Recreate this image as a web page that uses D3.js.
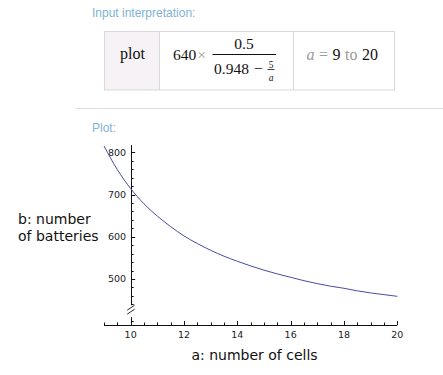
<!DOCTYPE html>
<html>
<head>
<meta charset="utf-8">
<script src="https://cdn.jsdelivr.net/npm/d3@7"></script>
<style>
  html, body { margin: 0; padding: 0; background: #fff; }
  svg { display: block; }
</style>
</head>
<body>
<svg id="chart" width="443" height="375"></svg>
<script>
// ---- data ----
const aValues = [9, 9.5, 10, 10.5, 11, 11.5, 12, 12.5, 13, 13.5, 14, 14.5, 15, 15.5, 16, 16.5, 17, 17.5, 18, 18.5, 19, 19.5, 20];
const bValues = [815, 759, 714, 678, 649, 624, 602, 584, 568, 554, 542, 531, 521, 512, 504, 496, 489, 483, 478, 472, 467, 463, 459];
const xTickLabels = [10, 12, 14, 16, 18, 20];
const yTickLabels = [500, 600, 700, 800];
const xLabel = "a: number of cells";
const yLabelLines = ["b: number", "of batteries"];

const svg = d3.select("#chart");

// ---- header: input interpretation ----
const blue = "#80b3d6";
svg.append("text").attr("x", 92).attr("y", 17)
  .attr("font-family", "Liberation Sans, Arial, sans-serif").attr("font-size", 12)
  .attr("fill", blue).text("Input interpretation:");

const tbl = svg.append("g");
tbl.append("rect").attr("x", 104.5).attr("y", 31.5).attr("width", 55).attr("height", 58.5)
  .attr("fill", "#f6f2f6");
tbl.append("rect").attr("x", 104.5).attr("y", 31.5).attr("width", 290).attr("height", 58.5)
  .attr("fill", "none").attr("stroke", "#d9d9d9");
[159.5, 293.5].forEach(x => tbl.append("line").attr("x1", x).attr("x2", x)
  .attr("y1", 31.5).attr("y2", 90).attr("stroke", "#d9d9d9"));

const serif = "Liberation Serif, Times New Roman, serif";
tbl.append("text").attr("x", 120).attr("y", 59).attr("font-family", serif)
  .attr("font-size", 16).attr("fill", "#111").text("plot");
tbl.append("text").attr("x", 173).attr("y", 60).attr("font-family", serif)
  .attr("font-size", 15.5).attr("fill", "#111")
  .call(t => { t.append("tspan").text("640");
               t.append("tspan").attr("fill", "#9a9a9a").attr("dx", 1).text("×"); });
tbl.append("text").attr("x", 244).attr("y", 49).attr("text-anchor", "middle")
  .attr("font-family", serif).attr("font-size", 15.5).attr("fill", "#111").text("0.5");
tbl.append("line").attr("x1", 212.5).attr("x2", 276).attr("y1", 54.5).attr("y2", 54.5)
  .attr("stroke", "#111").attr("stroke-width", 1);
tbl.append("text").attr("x", 214).attr("y", 74).attr("font-family", serif)
  .attr("font-size", 15.5).attr("fill", "#111")
  .call(t => { t.append("tspan").text("0.948");
               t.append("tspan").attr("dx", 5).text("−"); });
tbl.append("text").attr("x", 271).attr("y", 67.5).attr("text-anchor", "middle")
  .attr("font-family", serif).attr("font-size", 9.5).attr("fill", "#111").text("5");
tbl.append("line").attr("x1", 267.5).attr("x2", 274.5).attr("y1", 69.5).attr("y2", 69.5)
  .attr("stroke", "#111").attr("stroke-width", 0.8);
tbl.append("text").attr("x", 271).attr("y", 81).attr("text-anchor", "middle")
  .attr("font-family", serif).attr("font-style", "italic").attr("font-size", 9.5)
  .attr("fill", "#111").text("a");
tbl.append("text").attr("x", 306.5).attr("y", 60).attr("font-family", serif)
  .attr("font-size", 16).attr("fill", "#111")
  .call(t => {
    t.append("tspan").attr("fill", "#9a9a9a").attr("font-style", "italic").text("a");
    t.append("tspan").attr("fill", "#9a9a9a").attr("dx", 4.5).text("=");
    t.append("tspan").attr("dx", 4.5).text("9");
    t.append("tspan").attr("fill", "#9a9a9a").attr("dx", 4.5).text("to");
    t.append("tspan").attr("dx", 4.5).text("20");
  });

svg.append("line").attr("x1", 76).attr("x2", 443).attr("y1", 108.5).attr("y2", 108.5)
  .attr("stroke", "#dedede");
svg.append("text").attr("x", 92).attr("y", 132)
  .attr("font-family", "Liberation Sans, Arial, sans-serif").attr("font-size", 12)
  .attr("fill", blue).text("Plot:");

// ---- plot ----
const x = d3.scaleLinear().domain([9, 20]).range([104, 397.3]);
const y = d3.scaleLinear().domain([500, 800]).range([279, 152.3]);
const xAxisY = 325;
const axisX = x(10);
const tickFont = "DejaVu Sans, Verdana, sans-serif";
const axisColor = "#111";

// x axis
const gx = svg.append("g");
gx.append("line").attr("x1", x(9)).attr("x2", x(20)).attr("y1", xAxisY + 0.5).attr("y2", xAxisY + 0.5)
  .attr("stroke", axisColor);
const xMinor = d3.range(9, 20.01, 0.5);
gx.selectAll("line.tk").data(xMinor).join("line").attr("class", "tk")
  .attr("x1", d => Math.round(x(d)) + 0.5).attr("x2", d => Math.round(x(d)) + 0.5)
  .attr("y1", xAxisY).attr("y2", d => xTickLabels.includes(d) ? xAxisY - 4 : xAxisY - 2.5)
  .attr("stroke", axisColor);
gx.selectAll("text").data(xTickLabels).join("text")
  .attr("x", d => x(d)).attr("y", 338).attr("text-anchor", "middle")
  .attr("font-family", tickFont).attr("font-size", 9.5).attr("fill", "#222").text(d => d);

// y axis (with break)
const gy = svg.append("g");
const yTop = y(817), yBreakTop = y(438);
gy.append("line").attr("x1", Math.round(axisX) + 0.5).attr("x2", Math.round(axisX) + 0.5)
  .attr("y1", yTop).attr("y2", yBreakTop).attr("stroke", axisColor);
gy.append("line").attr("x1", Math.round(axisX) + 0.5).attr("x2", Math.round(axisX) + 0.5)
  .attr("y1", yBreakTop + 12).attr("y2", xAxisY).attr("stroke", axisColor);
// break marks
[0, 4].forEach(o => gy.append("line")
  .attr("x1", axisX - 3.5).attr("y1", yBreakTop + 5 + o)
  .attr("x2", axisX + 4).attr("y2", yBreakTop + o)
  .attr("stroke", axisColor).attr("stroke-width", 0.9));
const yMinor = d3.range(440, 801, 20);
gy.selectAll("line.tk").data(yMinor).join("line").attr("class", "tk")
  .attr("x1", Math.round(axisX)).attr("x2", d => yTickLabels.includes(d) ? axisX + 4.5 : axisX + 3)
  .attr("y1", d => Math.round(y(d)) + 0.5).attr("y2", d => Math.round(y(d)) + 0.5)
  .attr("stroke", axisColor);
gy.append("line").attr("x1", Math.round(axisX)).attr("x2", axisX + 3)
  .attr("y1", xAxisY - 3.5).attr("y2", xAxisY - 3.5).attr("stroke", axisColor);
gy.selectAll("text").data(yTickLabels).join("text")
  .attr("x", axisX - 4.5).attr("y", d => y(d)).attr("dy", "0.36em").attr("text-anchor", "end")
  .attr("font-family", tickFont).attr("font-size", 9.5).attr("fill", "#222").text(d => d);

// curve
const pts = aValues.map((a, i) => [a, bValues[i]]);
svg.append("path").datum(pts)
  .attr("d", d3.line().x(d => x(d[0])).y(d => y(d[1])).curve(d3.curveMonotoneX))
  .attr("fill", "none").attr("stroke", "#4a4aa6").attr("stroke-width", 1);

// axis labels
const labFont = "DejaVu Sans, Verdana, sans-serif";
svg.append("text").attr("x", 254.5).attr("y", 360).attr("text-anchor", "middle")
  .attr("font-family", labFont).attr("font-size", 14).attr("fill", "#111").text(xLabel);
svg.append("text").attr("font-family", labFont).attr("font-size", 14).attr("fill", "#111")
  .selectAll("tspan").data(yLabelLines).join("tspan")
  .attr("x", 18).attr("y", (d, i) => 224 + i * 17).text(d => d);
</script>
</body>
</html>
